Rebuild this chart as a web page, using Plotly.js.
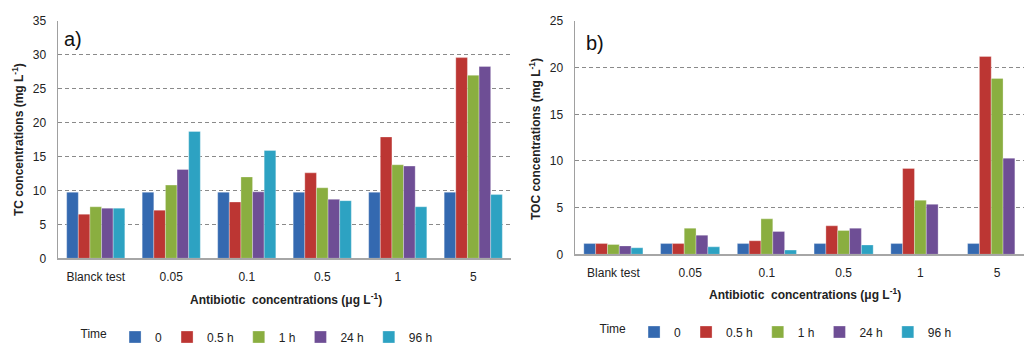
<!DOCTYPE html>
<html><head><meta charset="utf-8">
<script src="https://cdn.plot.ly/plotly-3.0.1.min.js"></script>
<style>html,body{margin:0;padding:0;background:#fff;overflow:hidden}#chart{width:1024px;height:344px}</style>
</head><body><div id="chart"></div>
<script>
const categoriesA = ['Blanck test', '0.05', '0.1', '0.5', '1', '5'];
const categoriesB = ['Blank test', '0.05', '0.1', '0.5', '1', '5'];
const seriesNames = ['0', '0.5 h', '1 h', '24 h', '96 h'];
const seriesColors = ['#3469B0', '#BC3633', '#8AAE40', '#6E4E95', '#2DA2C2'];

// Panel a) TC concentrations (mg L-1)
const tc_0h   = [9.75, 9.75, 9.75, 9.75, 9.75, 9.75];
const tc_05h  = [6.5, 7.1, 8.3, 12.6, 17.9, 29.6];
const tc_1h   = [7.6, 10.8, 12.0, 10.4, 13.8, 27.0];
const tc_24h  = [7.4, 13.1, 9.8, 8.7, 13.6, 28.3];
const tc_96h  = [7.4, 18.7, 15.9, 8.5, 7.6, 9.4];

// Panel b) TOC concentrations (mg L-1)
const toc_0h  = [1.15, 1.15, 1.15, 1.15, 1.15, 1.15];
const toc_05h = [1.15, 1.15, 1.45, 3.05, 9.2, 21.2];
const toc_1h  = [1.05, 2.8, 3.8, 2.55, 5.8, 18.85];
const toc_24h = [0.9, 2.05, 2.45, 2.8, 5.35, 10.3];
const toc_96h = [0.7, 0.8, 0.45, 1.0, 0, 0];

const tcSeries = [tc_0h, tc_05h, tc_1h, tc_24h, tc_96h];
const tocSeries = [toc_0h, toc_05h, toc_1h, toc_24h, toc_96h];

const FONT = 'Liberation Sans, Arial, sans-serif';
const traces = [];
tcSeries.forEach((vals, i) => {
  traces.push({
    type: 'bar', x: categoriesA, y: vals, name: seriesNames[i],
    xaxis: 'x', yaxis: 'y', legend: 'legend',
    marker: {color: seriesColors[i], line: {color: 'rgba(255,255,255,0.5)', width: 0.6}},
    hoverinfo: 'x+y+name'
  });
});
tocSeries.forEach((vals, i) => {
  traces.push({
    type: 'bar', x: categoriesB, y: vals, name: seriesNames[i],
    xaxis: 'x2', yaxis: 'y2', legend: 'legend2',
    marker: {color: seriesColors[i], line: {color: 'rgba(255,255,255,0.5)', width: 0.6}},
    hoverinfo: 'x+y+name'
  });
});

const W = 1024, H = 344;
const px = v => v / W;
const py = v => (H - v) / H;

const yCommon = {
  showgrid: true, gridcolor: '#8a8a8a', gridwidth: 1, griddash: '4px,3px',
  zeroline: false, showline: true, linecolor: '#a0a0a0', linewidth: 1.5,
  ticks: '', ticklabelstandoff: 8, dtick: 5,
  tickfont: {family: FONT, size: 12, color: '#222'}, fixedrange: true
};
const xCommon = {
  type: 'category', showgrid: false, zeroline: false, showline: true,
  linecolor: '#a6a6a6', linewidth: 2, ticks: '', ticklabelstandoff: 6,
  tickfont: {family: FONT, size: 12, color: '#222'}, fixedrange: true
};

const legendCommon = {
  orientation: 'h', xanchor: 'center', yanchor: 'middle',
  xref: 'container', yref: 'container',
  font: {family: FONT, size: 12, color: '#222'},
  title: {text: 'Time', side: 'left', font: {family: FONT, size: 12, color: '#222'}},
  bgcolor: 'rgba(0,0,0,0)', traceorder: 'normal'
};

const layout = {
  width: W, height: H,
  margin: {l: 0, r: 0, t: 0, b: 0, autoexpand: false},
  paper_bgcolor: '#fff', plot_bgcolor: '#fff',
  barmode: 'group', bargap: 0.23, bargroupgap: 0,
  showlegend: true,
  font: {family: FONT, size: 12, color: '#222'},
  xaxis: Object.assign({}, xCommon, {domain: [px(58), px(511)], range: [-0.5, 5.5], anchor: 'y'}),
  yaxis: Object.assign({}, yCommon, {domain: [py(258.3), py(21)], range: [0, 35], anchor: 'x'}),
  xaxis2: Object.assign({}, xCommon, {domain: [px(575), 1], range: [-0.5, 5.35], anchor: 'y2'}),
  yaxis2: Object.assign({}, yCommon, {domain: [py(254.3), py(21)], range: [0, 25], anchor: 'x2'}),
  legend: Object.assign({}, legendCommon, {x: px(258), y: py(337)}),
  legend2: Object.assign({}, legendCommon, {x: px(777), y: py(332)}),
  annotations: [
    {text: 'a)', xref: 'paper', yref: 'paper', x: px(62), y: py(39), xanchor: 'left', yanchor: 'middle',
     showarrow: false, font: {family: FONT, size: 20, color: '#111'}},
    {text: 'b)', xref: 'paper', yref: 'paper', x: px(584), y: py(43), xanchor: 'left', yanchor: 'middle',
     showarrow: false, font: {family: FONT, size: 20, color: '#111'}},
    {text: '<b>TC concentrations (mg L<sup>-1</sup>)</b>', xref: 'paper', yref: 'paper', x: px(18), y: py(140),
     xanchor: 'center', yanchor: 'middle', textangle: -90, showarrow: false, font: {family: FONT, size: 12, color: '#222'}},
    {text: '<b>TOC concentrations (mg L<sup>-1</sup>)</b>', xref: 'paper', yref: 'paper', x: px(535), y: py(139),
     xanchor: 'center', yanchor: 'middle', textangle: -90, showarrow: false, font: {family: FONT, size: 12, color: '#222'}},
    {text: '<b>Antibiotic  concentrations (μg L<sup>-1</sup>)</b>', xref: 'paper', yref: 'paper', x: px(286), y: py(299),
     xanchor: 'center', yanchor: 'middle', showarrow: false, font: {family: FONT, size: 12, color: '#222'}},
    {text: '<b>Antibiotic  concentrations (μg L<sup>-1</sup>)</b>', xref: 'paper', yref: 'paper', x: px(805), y: py(294),
     xanchor: 'center', yanchor: 'middle', showarrow: false, font: {family: FONT, size: 12, color: '#222'}}
  ]
};

Plotly.newPlot('chart', traces, layout, {displayModeBar: false, staticPlot: true});
</script>
</body></html>
